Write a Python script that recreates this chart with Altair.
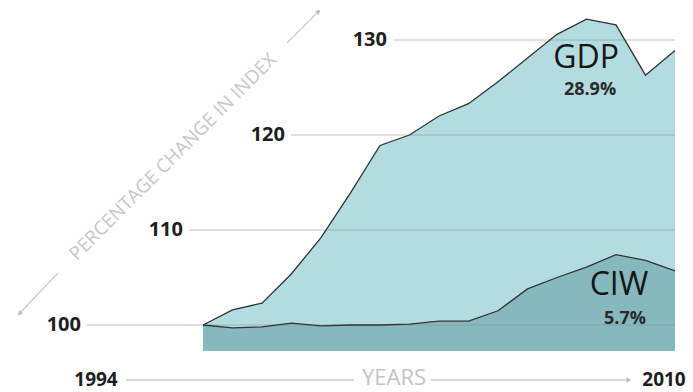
import altair as alt
import pandas as pd

# ---- data ----
years = list(range(1994, 2011))
gdp = [100.0, 101.6, 102.3, 105.4, 109.2, 113.9, 118.9, 120.0, 122.0, 123.3,
       125.6, 128.1, 130.6, 132.2, 131.6, 126.3, 128.9]
ciw = [100.0, 99.7, 99.8, 100.2, 99.9, 100.0, 100.0, 100.1, 100.4, 100.4,
       101.5, 103.8, 105.0, 106.1, 107.4, 106.8, 105.7]
tick_values = [100, 110, 120, 130]
tick_labels = ["100", "110", "120", "130"]
baseline_value = 97.26

W, H = 693, 392
# scale domains chosen so that 1994 -> 203px, 2010 -> 675px, 100 -> 325px, 130 -> 40px
PX_PER_YEAR = 29.5
X0 = 1994 - 203 / PX_PER_YEAR
X1 = X0 + W / PX_PER_YEAR
PX_PER_UNIT = 9.5
Y1 = 100 + 325 / PX_PER_UNIT
Y0 = Y1 - H / PX_PER_UNIT

xs = alt.Scale(domain=[X0, X1], nice=False, zero=False)
ys = alt.Scale(domain=[Y0, Y1], nice=False, zero=False)

df = pd.DataFrame({"year": years, "gdp": gdp, "ciw": ciw, "base": baseline_value})


def px_to_year(px):
    return X0 + px / PX_PER_YEAR


grid = pd.DataFrame({
    "v": tick_values,
    "label": tick_labels,
})
grid["label_x"] = [px_to_year(81 + (v - 100) * 10.2) for v in tick_values]
grid["rule_x"] = [px_to_year(87 + (v - 100) * 10.2) for v in tick_values]
grid["end"] = years[-1]

X = lambda f: alt.X(f, type="quantitative", scale=xs, axis=None)
Y = lambda f: alt.Y(f, type="quantitative", scale=ys, axis=None)

base = alt.Chart(df)

gdp_area = base.mark_area(color="#b3dce0", opacity=1).encode(
    x=X("year"), y=Y("gdp"), y2="base")
ciw_area = base.mark_area(color="#85b9be", opacity=1).encode(
    x=X("year"), y=Y("ciw"), y2="base")

grid_rules = alt.Chart(grid).mark_rule(color="#8a8a8a", opacity=0.35, strokeWidth=1.3).encode(
    x=X("rule_x"), x2="end", y=Y("v"))

gdp_line = base.mark_line(color="#333333", strokeWidth=1.3).encode(x=X("year"), y=Y("gdp"))
ciw_line = base.mark_line(color="#333333", strokeWidth=1.3).encode(x=X("year"), y=Y("ciw"))

tick_text = alt.Chart(grid).mark_text(
    align="right", baseline="middle", font="Open Sans", fontSize=20,
    fontWeight="bold", color="#1e1e1e").encode(
    x=X("label_x"), y=Y("v"), text="label:N")

one = pd.DataFrame({"a": [0]})


def txt(text, x, y, size, color="#1e1e1e", weight="normal", angle=0, baseline="alphabetic"):
    kw = dict(text=text, font="Open Sans", fontSize=size, color=color,
              fontWeight=weight, align="center", baseline=baseline)
    if angle:
        kw["angle"] = angle
    return alt.Chart(one).mark_text(**kw).encode(x=alt.value(x), y=alt.value(y))


def seg(x1, y1, x2, y2, color="#cccccc", w=1.3):
    return alt.Chart(one).mark_rule(color=color, strokeWidth=w).encode(
        x=alt.value(x1), y=alt.value(y1), x2=alt.value(x2), y2=alt.value(y2))


def head(x, y, angle, color="#bbbbbb"):
    return alt.Chart(one).mark_point(shape="triangle", filled=True, size=28,
                                     color=color, angle=angle, opacity=1).encode(
        x=alt.value(x), y=alt.value(y))


labels = [
    txt("GDP", 586, 68, 32, color="#161616"),
    txt("28.9%", 590, 95, 18, weight="bold", color="#2a2a2a"),
    txt("CIW", 619, 295, 32, color="#161616"),
    txt("5.7%", 625, 324, 18, weight="bold", color="#2a2a2a"),
    txt("1994", 96, 386, 19, weight="bold"),
    txt("2010", 664, 386, 19, weight="bold"),
    txt("YEARS", 394, 385, 22, color="#c4c4c4"),
    txt("PERCENTAGE CHANGE IN INDEX", 173, 157, 19, color="#c8c8c8", angle=315, baseline="middle"),
]

decor = [
    seg(126, 380, 354, 380),
    seg(431, 380, 628, 380),
    head(628, 380, 90),
    seg(20, 313, 58, 273),
    head(20, 313, 225),
    seg(287, 43, 318, 12),
    head(318, 12, 45),
]

chart = alt.layer(
    gdp_area, ciw_area, grid_rules, gdp_line, ciw_line, tick_text, *labels, *decor
).properties(
    width=W, height=H, autosize=alt.AutoSizeParams(type="none"), padding=0,
    background="white"
).configure_view(stroke=None)

chart.save("out.html", embed_options={"renderer": "svg", "actions": False})
